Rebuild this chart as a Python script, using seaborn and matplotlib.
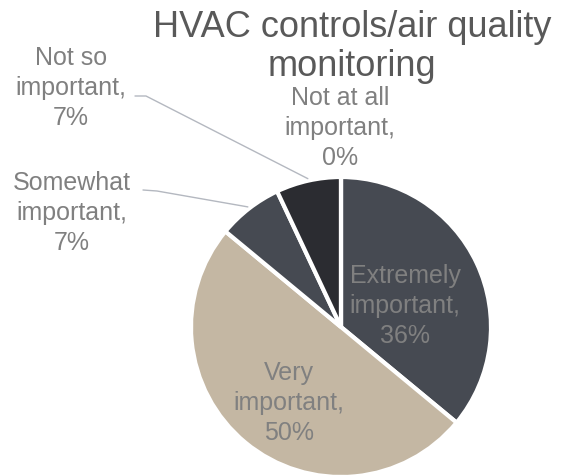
#~~~~~~~~~~~~~~~~~~~~~~~~~~~~~~~~~~~~~~~~~~~~~~~~~~~~~~~~~~~~~~~~~~~~~~~~~~~~~~
# plot.py ----
# Purpose of Script: Pie chart - HVAC controls/air quality monitoring
#~~~~~~~~~~~~~~~~~~~~~~~~~~~~~~~~~~~~~~~~~~~~~~~~~~~~~~~~~~~~~~~~~~~~~~~~~~~~~
import numpy as np
import seaborn as sns
import matplotlib
matplotlib.use("Agg")
import matplotlib.pyplot as plt

# Data
categories = ["Extremely important", "Very important", "Somewhat important",
              "Not so important", "Not at all important"]
label_names = ["Extremely\nimportant", "Very\nimportant", "Somewhat\nimportant",
               "Not so\nimportant", "Not at all\nimportant"]
pct = [36, 50, 7, 7, 0]
colours = ["#464a52", "#c4b7a3", "#464a52", "#2b2c31", "#3a3c42"]

title = "HVAC controls/air quality\nmonitoring"

#~~~~~~~~~~~~~~~~~~~~~~~~~~
# Layout (pixels, origin top-left)
#~~~~~~~~~~~~~~~~~~~~~~~~~~
W, H = 567, 475
centre = (341, 327)
radius = 150
label_pos = {
    "Extremely important": (405, 306),
    "Very important": (289, 403),
    "Somewhat important": (72, 213),
    "Not so important": (71, 88),
    "Not at all important": (340, 128),
}
# leader line start (end of label) for outside labels
leader_start = {
    "Somewhat important": [(143, 190), (157, 191)],
    "Not so important": [(135, 96), (146, 96)],
}

sns.set_theme(style="white")
plt.rcParams["font.family"] = ["Liberation Sans", "DejaVu Sans"]

fig = plt.figure(figsize=(W / 100, H / 100), dpi=100)
ax = fig.add_axes([0, 0, 1, 1])

wedges, _ = ax.pie(
    pct,
    colors=colours,
    startangle=90,
    counterclock=False,
    center=(centre[0], H - centre[1]),
    radius=radius,
    wedgeprops=dict(edgecolor="white", linewidth=3.0),
)
ax.set_xlim(0, W)
ax.set_ylim(0, H)
ax.set_aspect("auto")
ax.axis("off")

# Labels
for i, cat in enumerate(categories):
    x, y = label_pos[cat]
    ax.text(x, H - y, f"{label_names[i]},\n{pct[i]}%", ha="center", va="center",
            fontsize=18, color="#808080", linespacing=1.3)

    if cat in leader_start:
        w = wedges[i]
        mid = np.deg2rad((w.theta1 + w.theta2) / 2)
        ex = centre[0] + (radius + 2) * np.cos(mid)
        ey = (H - centre[1]) + (radius + 2) * np.sin(mid)
        pts = [(px, H - py) for px, py in leader_start[cat]] + [(ex, ey)]
        xs, ys = zip(*pts)
        ax.plot(xs, ys, color="#b4b8c0", linewidth=1.0)

# Title
ax.text(352, H - 47, title, ha="center", va="center", fontsize=26,
        color="#595959", linespacing=1.15)

fig.savefig("out.png", dpi=100)
